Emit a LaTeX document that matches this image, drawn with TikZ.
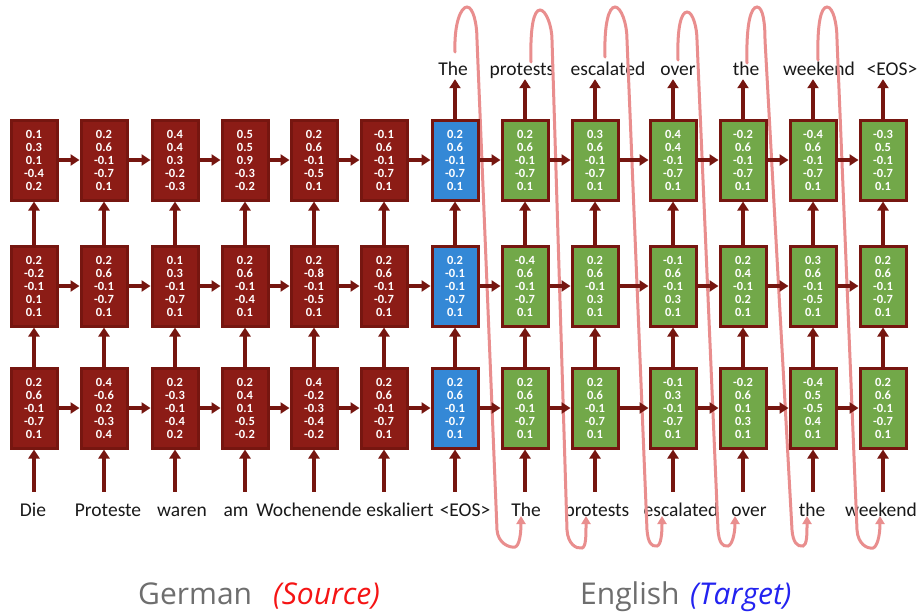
\documentclass[tikz,border=0pt]{standalone}
\usepackage{fontspec}
\setmainfont{Carlito}
\newfontfamily\labelfont{Open Sans}
\usetikzlibrary{arrows.meta}

\definecolor{cellred}{RGB}{140,28,22}
\definecolor{wire}{RGB}{118,22,16}
\definecolor{cellgreen}{RGB}{114,168,73}
\definecolor{cellblue}{RGB}{52,136,214}
\definecolor{feedpink}{RGB}{233,142,142}
\definecolor{wordink}{RGB}{25,25,25}
\definecolor{langgray}{RGB}{110,110,110}
\definecolor{srcred}{RGB}{245,20,20}
\definecolor{tgtblue}{RGB}{35,35,240}

\begin{document}
\begin{tikzpicture}[x=1pt,y=-1pt,
  cell/.style={draw=wire, line width=3pt, minimum width=46pt, minimum height=80pt,
    inner sep=0pt, text=white, align=center,
    font=\bfseries\fontsize{12.5}{13}\selectfont},
  word/.style={inner sep=0pt, anchor=base, text=wordink, text height=13pt, text depth=4pt,
    font=\fontsize{19.5}{20}\selectfont},
  arr/.style={draw=wire, line width=3.5pt, -{Triangle[length=9pt,width=11pt]}},
  fb/.style={draw=feedpink, line width=3pt, line cap=round,
    -{Triangle[length=8pt,width=9pt]}},
  lang/.style={inner sep=0pt, anchor=base west, font=\labelfont\fontsize{30}{31}\selectfont}]

\useasboundingbox (0,0) rectangle (923,611);
\fill[white] (0,0) rectangle (923,611);

% input words (source sentence followed by the shifted target sentence)
\foreach \i/\x/\w in {1/33/Die, 2/108/Proteste, 3/182/waren, 4/236/am,
    5/309/Wochenende, 6/400/eskaliert, 7/465/<EOS>, 8/526/The, 9/597/protests,
    10/681/escalated, 11/749/over, 12/812/the, 13/881/weekend}
  \node[word] (in\i) at (\x,516) {\w};

% output words of the decoder
\foreach \i/\x/\w in {7/453/The, 8/522/protests, 9/608/escalated, 10/678/over,
    11/746/the, 12/819/weekend, 13/892/<EOS>}
  \node[word] (out\i) at (\x,75) {\w};

% each emitted word is fed back as the next decoder input
\foreach \sx/\sy/\ax/\ay/\rt/\rb/\hx/\hy/\ex in {
    455/52/467/7/477/497/515/547/521,
    531/62/540/10/552/567/582/548/586,
    605/57/615/7/627/647/657/546/662,
    678/60/687/12/697/718/728/546/735,
    747/63/757/7/765/792/803/546/807,
    818/60/827/7/837/857/873/548/880}
  \draw[fb] (\sx,\sy) .. controls ({\sx-1},{\ay+16}) and ({\ax-6},\ay) .. (\ax,\ay)
    .. controls ({\ax+6},\ay) and (\rt,{\ay+16}) .. (\rt,40)
    -- (\rb,530) .. controls ({\rb+1},{\hy-4}) and ({\hx-6},{\hy+1}) .. (\hx,\hy)
    .. controls ({\hx+4},{\hy-1}) and (\ex,{\hy-12}) .. (\ex,516);

% LSTM cells: top, middle and bottom layer of every time step
\foreach \i/\x/\fc/\top/\mid/\bot in {
    1/34/cellred/{0.1\\0.3\\0.1\\-0.4\\0.2}/{0.2\\-0.2\\-0.1\\0.1\\0.1}/{0.2\\0.6\\-0.1\\-0.7\\0.1},
    2/104/cellred/{0.2\\0.6\\-0.1\\-0.7\\0.1}/{0.2\\0.6\\-0.1\\-0.7\\0.1}/{0.4\\-0.6\\0.2\\-0.3\\0.4},
    3/175/cellred/{0.4\\0.4\\0.3\\-0.2\\-0.3}/{0.1\\0.3\\-0.1\\-0.7\\0.1}/{0.2\\-0.3\\-0.1\\-0.4\\0.2},
    4/245/cellred/{0.5\\0.5\\0.9\\-0.3\\-0.2}/{0.2\\0.6\\-0.1\\-0.4\\0.1}/{0.2\\0.4\\0.1\\-0.5\\-0.2},
    5/314/cellred/{0.2\\0.6\\-0.1\\-0.5\\0.1}/{0.2\\-0.8\\-0.1\\-0.5\\0.1}/{0.4\\-0.2\\-0.3\\-0.4\\-0.2},
    6/384/cellred/{-0.1\\0.6\\-0.1\\-0.7\\0.1}/{0.2\\0.6\\-0.1\\-0.7\\0.1}/{0.2\\0.6\\-0.1\\-0.7\\0.1},
    7/455/cellblue/{0.2\\0.6\\-0.1\\-0.7\\0.1}/{0.2\\-0.1\\-0.1\\-0.7\\0.1}/{0.2\\0.6\\-0.1\\-0.7\\0.1},
    8/525/cellgreen/{0.2\\0.6\\-0.1\\-0.7\\0.1}/{-0.4\\0.6\\-0.1\\-0.7\\0.1}/{0.2\\0.6\\-0.1\\-0.7\\0.1},
    9/595/cellgreen/{0.3\\0.6\\-0.1\\-0.7\\0.1}/{0.2\\0.6\\-0.1\\0.3\\0.1}/{0.2\\0.6\\-0.1\\-0.7\\0.1},
    10/673/cellgreen/{0.4\\0.4\\-0.1\\-0.7\\0.1}/{-0.1\\0.6\\-0.1\\0.3\\0.1}/{-0.1\\0.3\\-0.1\\-0.7\\0.1},
    11/743/cellgreen/{-0.2\\0.6\\-0.1\\-0.7\\0.1}/{0.2\\0.4\\-0.1\\0.2\\0.1}/{-0.2\\0.6\\0.1\\0.3\\0.1},
    12/813/cellgreen/{-0.4\\0.6\\-0.1\\-0.7\\0.1}/{0.3\\0.6\\-0.1\\-0.5\\0.1}/{-0.4\\0.5\\-0.5\\0.4\\0.1},
    13/883/cellgreen/{-0.3\\0.5\\-0.1\\-0.7\\0.1}/{0.2\\0.6\\-0.1\\-0.7\\0.1}/{0.2\\0.6\\-0.1\\-0.7\\0.1}}
{
  \node[cell, fill=\fc] (t\i) at (\x,160) {\top};
  \node[cell, fill=\fc] (m\i) at (\x,286) {\mid};
  \node[cell, fill=\fc] (b\i) at (\x,408) {\bot};
}

% recurrent connections along each layer
\foreach \r in {t,m,b}
  \foreach \i in {1,...,12} {
    \pgfmathtruncatemacro{\nxt}{\i+1}
    \draw[arr] (\r\i.east) -- (\r\nxt.west);
  }

% inputs and connections between layers
\foreach \i in {1,...,13} {
  \draw[arr, shorten <=11pt] (b\i.south |- in\i.north) -- (b\i.south);
  \draw[arr] (b\i.north) -- (m\i.south);
  \draw[arr] (m\i.north) -- (t\i.south);
}

% decoder outputs
\foreach \i in {7,...,13}
  \draw[arr] (t\i.north) -- (t\i.north |- out\i.south);

% language captions
\node[lang, text=langgray] (srclang) at (138,604) {German};
\node[lang, text=srcred, font=\labelfont\itshape\fontsize{30}{31}\selectfont] (srctag) at (273,604) {(Source)};
\node[lang, text=langgray] (tgtlang) at (580,604) {English};
\node[lang, text=tgtblue, font=\labelfont\itshape\fontsize{30}{31}\selectfont] (tgttag) at (690,604) {(Target)};
\end{tikzpicture}
\end{document}
